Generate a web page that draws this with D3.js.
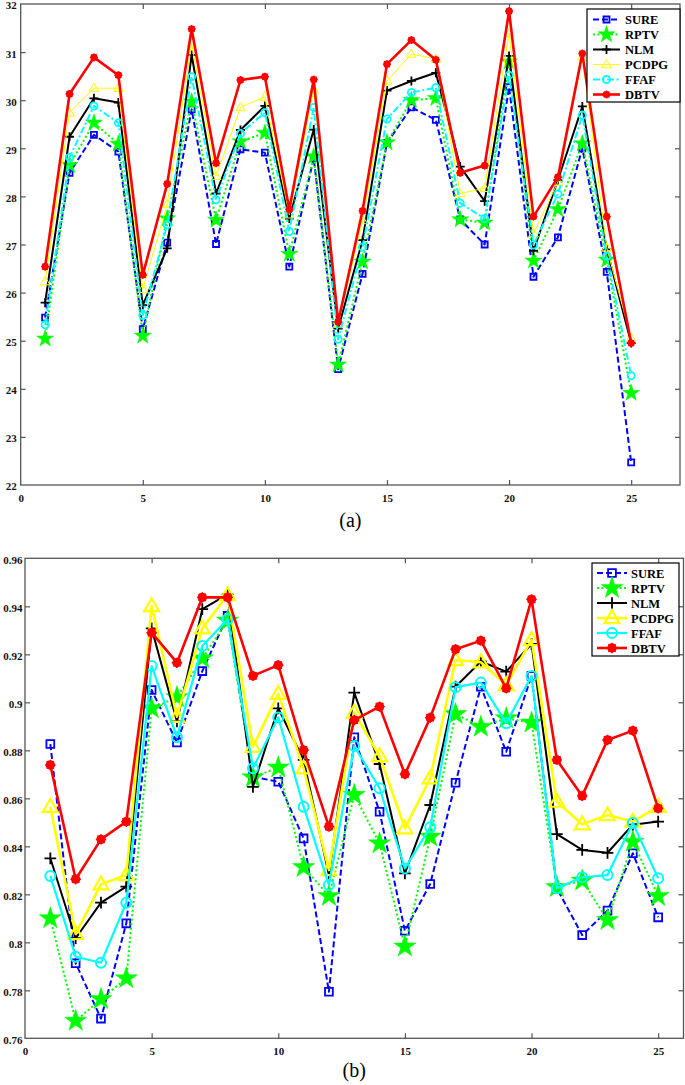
<!DOCTYPE html>
<html>
<head>
<meta charset="utf-8">
<script src="https://cdn.jsdelivr.net/npm/d3@7/dist/d3.min.js"></script>
<style>
html,body{margin:0;padding:0;background:#fff;}
svg{display:block;}
text{font-family:"Liberation Serif","Times New Roman",serif;}
</style>
</head>
<body>
<svg id="c" width="685" height="1085"></svg>
<script>
// ---------- data ----------
const categories = [1,2,3,4,5,6,7,8,9,10,11,12,13,14,15,16,17,18,19,20,21,22,23,24,25];
const seriesNames = ["SURE","RPTV","NLM","PCDPG","FFAF","DBTV"];

// (a) PSNR
const psnrSURE  = [25.48,28.49,29.28,28.93,25.24,27.04,29.81,27.01,28.98,28.91,26.54,28.80,24.41,26.39,29.11,29.85,29.59,27.52,27.00,30.27,26.33,27.15,29.00,26.43,22.47];
const psnrRPTV  = [25.04,28.65,29.53,29.09,25.10,27.54,29.97,27.51,29.14,29.32,26.80,28.83,24.50,26.64,29.12,30.00,30.04,27.52,27.45,30.80,26.66,27.73,29.10,26.68,23.91];
const psnrNLM   = [25.79,29.24,30.04,29.95,25.74,26.92,30.94,28.06,29.38,29.88,27.54,29.39,25.25,27.09,30.20,30.40,30.57,28.62,27.90,30.92,26.87,28.34,29.87,26.90,24.95];
const psnrPCDPG = [26.23,29.74,30.25,30.25,26.07,27.84,31.18,28.42,29.85,30.07,27.62,30.22,25.35,27.50,30.40,30.96,30.86,28.06,28.17,31.39,27.23,28.30,30.90,26.93,25.05];
const psnrFFAF  = [25.33,28.81,29.88,29.53,25.53,27.41,30.49,27.93,29.31,29.74,27.27,29.85,25.03,26.95,29.61,30.16,30.26,27.86,27.54,30.52,26.99,28.05,29.69,26.76,24.27];
const psnrDBTV  = [26.54,30.13,30.89,30.52,26.37,28.26,31.48,28.69,30.42,30.49,27.73,30.43,25.39,27.70,30.75,31.25,30.84,28.49,28.64,31.85,27.58,28.40,30.97,27.58,24.95];

// (b) SSIM
const ssimSURE  = [0.8826,0.7913,0.7682,0.8079,0.9051,0.8833,0.9130,0.9360,0.8690,0.8669,0.8433,0.7794,0.8854,0.8544,0.8048,0.8243,0.8665,0.9065,0.8794,0.9110,0.8225,0.8030,0.8132,0.8371,0.8104];
const ssimRPTV  = [0.8100,0.7673,0.7763,0.7850,0.8975,0.9021,0.9183,0.9340,0.8687,0.8728,0.8313,0.8193,0.8614,0.8412,0.7982,0.8440,0.8951,0.8898,0.8933,0.8915,0.8230,0.8257,0.8093,0.8419,0.8193];
const ssimNLM   = [0.8350,0.8017,0.8165,0.8232,0.9308,0.8920,0.9388,0.9450,0.8648,0.8975,0.8760,0.8280,0.9040,0.8743,0.8287,0.8572,0.9065,0.9170,0.9128,0.9243,0.8451,0.8385,0.8373,0.8490,0.8503];
const ssimPCDPG = [0.8565,0.8035,0.8242,0.8280,0.9401,0.8940,0.9308,0.9447,0.8815,0.9035,0.8725,0.8301,0.8957,0.8776,0.8475,0.8683,0.9176,0.9167,0.9072,0.9260,0.8586,0.8492,0.8530,0.8503,0.8565];
const ssimFFAF  = [0.8276,0.7940,0.7915,0.8165,0.9151,0.8854,0.9235,0.9346,0.8725,0.8937,0.8565,0.8239,0.8818,0.8642,0.8308,0.8479,0.9063,0.9082,0.8913,0.9110,0.8225,0.8271,0.8280,0.8497,0.8267];
const ssimDBTV  = [0.8739,0.8263,0.8429,0.8503,0.9290,0.9165,0.9437,0.9437,0.9110,0.9155,0.8801,0.8482,0.8926,0.8982,0.8700,0.8936,0.9221,0.9257,0.9058,0.9429,0.8760,0.8610,0.8843,0.8882,0.8558];

// ticks
const psnrYTicks = [22,23,24,25,26,27,28,29,30,31,32];
const ssimYTicks = [0.76,0.78,0.8,0.82,0.84,0.86,0.88,0.9,0.92,0.94,0.96];
const xTicks = [0,5,10,15,20,25];
const captions = ["(a)","(b)"];

// ---------- drawing ----------
const svg = d3.select("#c");

const colors = {SURE:"#0000ff",RPTV:"#00ff00",NLM:"#000000",PCDPG:"#ffff00",FFAF:"#00ffff",DBTV:"#ff0000"};

function styleFor(name, big){
  switch(name){
    case "SURE":  return {w:2,   dash:"6,3"};
    case "RPTV":  return {w:2,   dash:"2,2.5"};
    case "NLM":   return {w:2,   dash:null};
    case "PCDPG": return {w:big?2.6:1, dash:null};
    case "FFAF":  return {w:big?2.2:2, dash:big?null:"7,2.5,2,2.5"};
    case "DBTV":  return {w:2.6, dash:null};
  }
}

function drawMarker(g, name, x, y, big){
  const c = colors[name];
  const s = big ? 1.3 : 1;
  if(name==="SURE"){
    g.append("path").attr("d", d3.symbol(d3.symbolSquare, 36*s*s)())
      .attr("transform",`translate(${x},${y})`).attr("fill","none").attr("stroke",c).attr("stroke-width",1.8);
  } else if(name==="RPTV"){
    g.append("path").attr("d", d3.symbol(d3.symbolStar, 90*s*s)())
      .attr("transform",`translate(${x},${y})`).attr("fill",c).attr("stroke",c).attr("stroke-width",0.5);
  } else if(name==="NLM"){
    const r = 4.5*s;
    g.append("path").attr("d",`M${x-r},${y}H${x+r}M${x},${y-r}V${y+r}`)
      .attr("stroke",c).attr("stroke-width",1.8).attr("fill","none");
  } else if(name==="PCDPG"){
    g.append("path").attr("d", d3.symbol(d3.symbolTriangle, (big?95:40))())
      .attr("transform",`translate(${x},${y+ (big?0.8:0.5)})`).attr("fill","none").attr("stroke",c).attr("stroke-width",big?2.2:1);
  } else if(name==="FFAF"){
    g.append("circle").attr("cx",x).attr("cy",y).attr("r",big?5:3.6)
      .attr("fill","none").attr("stroke",c).attr("stroke-width",big?2:1.8);
  } else if(name==="DBTV"){
    const r = 4*s;
    g.append("circle").attr("cx",x).attr("cy",y).attr("r",3.6*s).attr("fill",c);
    let d="";
    for(let k=0;k<4;k++){const a=k*Math.PI/4; d+=`M${x-r*Math.cos(a)},${y-r*Math.sin(a)}L${x+r*Math.cos(a)},${y+r*Math.sin(a)}`;}
    g.append("path").attr("d",d).attr("stroke",c).attr("stroke-width",1.4);
  }
}

function drawChart(opt){
  const {x0,x1,y0,y1,xDomain,yDomain,yTicks,series,big,legend,caption,captionY,fmt,yPad} = opt;
  const x = d3.scaleLinear().domain(xDomain).range([x0,x1]);
  const y = d3.scaleLinear().domain(yDomain).range([y1,y0]);
  const g = svg.append("g");
  const axisColor = "#555";

  // box
  g.append("rect").attr("x",x0).attr("y",y0).attr("width",x1-x0).attr("height",y1-y0)
    .attr("fill","none").attr("stroke",axisColor).attr("stroke-width",1.3);

  // axes with inward ticks
  const ax = g.append("g").attr("transform",`translate(0,${y1})`)
    .call(d3.axisBottom(x).tickValues(xTicks).tickSizeInner(-5).tickSizeOuter(0).tickPadding(9));
  const axTop = g.append("g").attr("transform",`translate(0,${y0})`)
    .call(d3.axisTop(x).tickValues(xTicks).tickSizeInner(-5).tickSizeOuter(0).tickFormat(""));
  const ay = g.append("g").attr("transform",`translate(${x0},0)`)
    .call(d3.axisLeft(y).tickValues(yTicks).tickSizeInner(-5).tickSizeOuter(0).tickPadding(yPad).tickFormat(fmt));
  const ayR = g.append("g").attr("transform",`translate(${x1},0)`)
    .call(d3.axisRight(y).tickValues(yTicks).tickSizeInner(-5).tickSizeOuter(0).tickFormat(""));
  [ax,axTop,ay,ayR].forEach(a=>{
    a.select(".domain").remove();
    a.selectAll(".tick line").attr("stroke",axisColor).attr("stroke-width",1.2);
    a.selectAll(".tick text").attr("fill","#111").attr("font-size","11px").attr("font-weight","bold")
      .attr("font-family","'Liberation Serif','Times New Roman',serif");
  });
  ay.selectAll(".tick text").attr("dy","0.45em");
  // hide ticks at the extreme corners (they coincide with the box)
  [ax,axTop].forEach(a=>a.selectAll(".tick").filter(d=>d===xDomain[0]).select("line").remove());
  [ay,ayR].forEach(a=>a.selectAll(".tick").filter(d=>Math.abs(d-yDomain[0])<1e-9||Math.abs(d-yDomain[1])<1e-9).select("line").remove());

  // series
  const line = d3.line().x((d,i)=>x(categories[i])).y(d=>y(d));
  seriesNames.forEach(name=>{
    const vals = series[name];
    const st = styleFor(name,big);
    g.append("path").datum(vals).attr("d",line).attr("fill","none")
      .attr("stroke",colors[name]).attr("stroke-width",st.w)
      .attr("stroke-dasharray",st.dash).attr("stroke-linejoin","round");
    const mg = g.append("g");
    vals.forEach((v,i)=>drawMarker(mg,name,x(categories[i]),y(v),big));
  });

  // legend
  const L = legend;
  g.append("rect").attr("x",L.x).attr("y",L.y).attr("width",L.w).attr("height",L.h)
    .attr("fill","#fff").attr("stroke","#000").attr("stroke-width",1.2);
  seriesNames.forEach((name,i)=>{
    const yy = L.y + L.first + i*L.step;
    const st = styleFor(name,big);
    g.append("line").attr("x1",L.lx0).attr("x2",L.lx1).attr("y1",yy).attr("y2",yy)
      .attr("stroke",colors[name]).attr("stroke-width",st.w).attr("stroke-dasharray",st.dash);
    drawMarker(g,name,(L.lx0+L.lx1)/2,yy,big);
    g.append("text").attr("x",L.tx).attr("y",yy).attr("dy","0.36em")
      .attr("font-size","12.5px").attr("font-weight","bold").attr("fill","#000").text(name);
  });

  svg.append("text").attr("x",(x0+x1)/2).attr("y",captionY).attr("text-anchor","middle")
    .attr("font-size","20px").attr("fill","#000").text(caption);
}

drawChart({
  x0:20.7, x1:680, y0:4, y1:485, xDomain:[0,27], yDomain:[22,32], yTicks:psnrYTicks,
  series:{SURE:psnrSURE,RPTV:psnrRPTV,NLM:psnrNLM,PCDPG:psnrPCDPG,FFAF:psnrFFAF,DBTV:psnrDBTV},
  big:false, fmt:d3.format("d"), yPad:4,
  legend:{x:587,y:9,w:93,h:93,first:10.5,step:15,lx0:593,lx1:620,tx:625},
  caption:captions[0], captionY:527
});
drawChart({
  x0:25, x1:683.5, y0:558.3, y1:1038.3, xDomain:[0,26], yDomain:[0.76,0.96], yTicks:ssimYTicks,
  series:{SURE:ssimSURE,RPTV:ssimRPTV,NLM:ssimNLM,PCDPG:ssimPCDPG,FFAF:ssimFFAF,DBTV:ssimDBTV},
  big:true, fmt:d=>String(+d.toFixed(2)), yPad:2.5,
  legend:{x:592,y:563,w:87,h:93,first:10,step:15,lx0:597,lx1:627,tx:631},
  caption:captions[1], captionY:1077
});
</script>
</body>
</html>
